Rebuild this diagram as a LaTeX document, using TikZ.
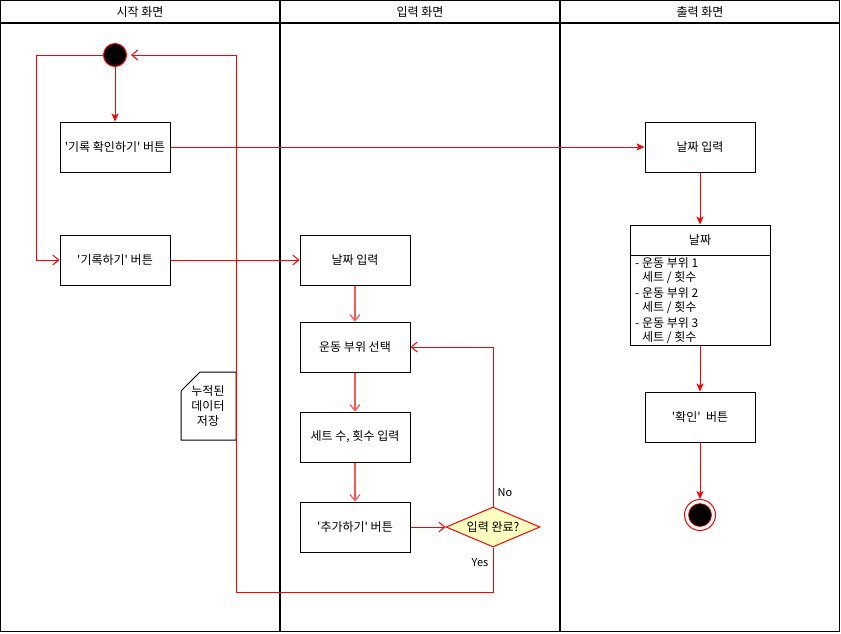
\documentclass[tikz,border=0pt]{standalone}
\usepackage{fontspec}
\setmainfont{Noto Sans CJK KR}[Ligatures=TeXOff]
\usetikzlibrary{shapes.geometric,arrows.meta}
\definecolor{lred}{RGB}{255,85,85}
\definecolor{dfill}{RGB}{255,255,192}
\begin{document}
\begin{tikzpicture}[x=1pt,y=-1pt, font=\fontsize{12}{14}\selectfont,
  box/.style={draw=black, line width=1pt, minimum width=110pt, minimum height=50pt, inner sep=0pt},
  fil/.style={draw=red, line width=1pt, -{Stealth[length=8pt,width=7pt,inset=2pt]}},
  opn/.style={draw=red, line width=1pt, -{Straight Barb[length=6pt,width=10pt]}},
  lopn/.style={draw=lred, line width=1.2pt, -{Straight Barb[length=6pt,width=10pt]}},
  lane/.style={draw=black, line width=1.2pt},
  small/.style={font=\fontsize{11}{13}\selectfont}]
\useasboundingbox (0,0) rectangle (841,633);
% lanes
\draw[lane] (0.6,0.6) rectangle (839.4,631.4);
\draw[lane] (0.6,23) -- (839.4,23);
\draw[lane] (280,0.6) -- (280,631.4);
\draw[lane] (560,0.6) -- (560,631.4);
\node (h1) at (140,12) {시작 화면};
\node (h2) at (420,12) {입력 화면};
\node (h3) at (700,12) {출력 화면};
% start
\node[circle, fill=black, draw=red, line width=1pt, minimum size=23pt, inner sep=0pt] (start) at (115,55) {};
% boxes
\node[box] (chk) at (115,147) {'기록 확인하기' 버튼};
\node[box] (rec) at (115,260) {'기록하기' 버튼};
\node[box] (idate) at (355,260) {날짜 입력};
\node[box] (part) at (355,347) {운동 부위 선택};
\node[box] (sets) at (355,437) {세트 수, 횟수 입력};
\node[box] (add) at (355,527) {'추가하기' 버튼};
\node[diamond, draw=red, fill=dfill, line width=1pt, minimum width=94pt, minimum height=40pt, shape aspect=2.35, inner sep=0pt] (dec) at (493,527) {입력 완료?};
\node[box] (odate) at (700,147) {날짜 입력};
\node[draw=black, line width=1pt, minimum width=140pt, minimum height=120pt, inner sep=0pt] (tbl) at (700,285) {};
\draw[line width=1pt] (tbl.west |- 0,255) -- (tbl.east |- 0,255);
\node (thead) at (700,240) {날짜};
\node[anchor=north west, align=left, inner sep=0pt, font=\fontsize{12}{14}\selectfont] (tbody) at (635,257.5) {- 운동 부위 1\\\hspace*{7pt}세트 / 횟수\\[2pt]- 운동 부위 2\\\hspace*{7pt}세트 / 횟수\\[2pt]- 운동 부위 3\\\hspace*{7pt}세트 / 횟수};
\node[box] (ok) at (700,417) {'확인'\ \ 버튼};
\node[circle, draw=red, fill=white, line width=1pt, minimum size=31pt, inner sep=0pt] (endo) at (700,515) {};
\node[circle, draw=red, fill=black, line width=0.6pt, minimum size=23pt, inner sep=0pt] (endi) at (endo) {};
% note
\draw[line width=1pt] (200,372) -- (236,372) -- (236,440) -- (181,440) -- (181,391) -- cycle;
\node[align=center, inner sep=0pt, font=\fontsize{12}{15}\selectfont] (note) at (208,406) {누적된\\데이터\\저장};
% coordinates
\coordinate (lp) at (36,55);
\coordinate (yb) at (236,592);
% edges
\draw[fil] (start) -- (chk);
\draw[opn] (start.west) -- (lp) |- (rec.west);
\draw[fil] (chk.east) -- (odate.west);
\draw[opn] (rec) -- (idate);
\draw[lopn] (idate) -- (part);
\draw[lopn] (part) -- (sets);
\draw[lopn] (sets) -- (add);
\draw[opn] (add) -- (dec);
\draw[opn] (dec.north) |- (part.east);
\draw[opn] (dec.south) |- (yb) |- ([xshift=4pt]start.east);
\draw[fil] (odate) -- (tbl);
\draw[fil] (tbl) -- (ok);
\draw[fil] (ok) -- (endo);
\node[small] (no) at (505,493) {No};
\node[small] (yes) at (480,563) {Yes};
\end{tikzpicture}
\end{document}
